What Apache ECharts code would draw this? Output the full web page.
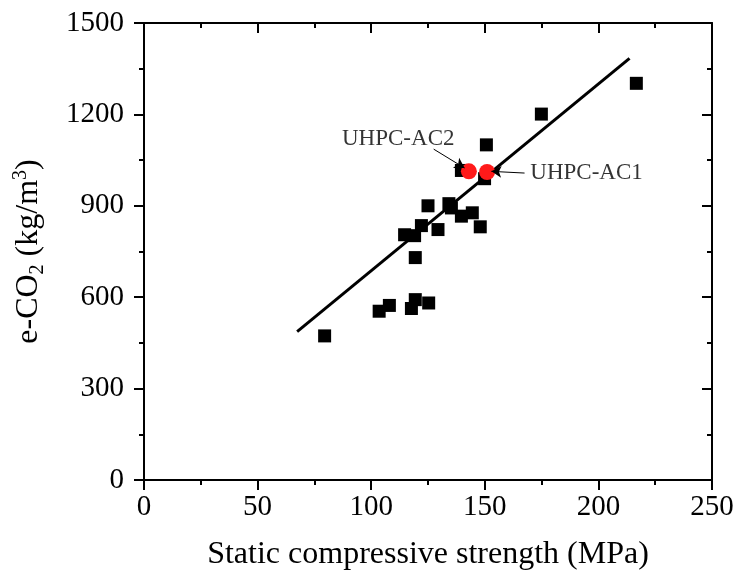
<!DOCTYPE html>
<html>
<head>
<meta charset="utf-8">
<script src="https://cdn.jsdelivr.net/npm/echarts@6/dist/echarts.min.js"></script>
<style>html,body{margin:0;padding:0;background:#fff;}#c{width:740px;height:576px;}</style>
</head>
<body>
<div id="c"></div>
<script>
// Data
var sqX = [79.5, 103.5, 108, 117.7, 119.4, 125.3, 119.4, 114.7, 119.1, 122.1, 129.4, 125, 134.2, 135.3, 139.7, 144.5, 148, 139.7, 149.9, 150.7, 174.9, 216.7];
var sqY = [473, 554, 573, 563, 592, 581, 730, 805, 802, 835, 822, 900, 907, 893, 866, 877, 831, 1016, 989, 1100, 1201, 1302];
var uhpcX = [143, 151];
var uhpcY = [1013, 1011];
var uhpcNames = ['UHPC-AC2', 'UHPC-AC1'];
var fitX = [67.4, 213.7];
var fitY = [487, 1384];
var labelX = [111.9, 194.8];
var labelY = [1119, 1008];
var arrowFromX = [127.5, 167.5];
var arrowFromY = [1086, 1007.5];
var arrowToX = [141.1, 152.9];
var arrowToY = [1024, 1013];
var xTicks = [0, 50, 100, 150, 200, 250];
var yTicks = [0, 300, 600, 900, 1200, 1500];

var FONT = 'Liberation Serif';
function zip(a, b) { return a.map(function (v, i) { return [v, b[i]]; }); }
function plain(v) { return String(v); }

var chart = echarts.init(document.getElementById('c'), null, { renderer: 'canvas' });
var axisLine = { show: true, onZero: false, lineStyle: { color: '#000', width: 2 } };
var option = {
  animation: false,
  backgroundColor: '#fff',
  grid: { left: 144, right: 28, top: 23, bottom: 95, containLabel: false },
  xAxis: [
    {
      type: 'value', position: 'bottom', min: xTicks[0], max: xTicks[xTicks.length - 1], interval: 50,
      axisLine: axisLine,
      axisTick: { show: true, inside: false, length: 10, lineStyle: { color: '#000', width: 2 } },
      minorTick: { show: true, splitNumber: 2, length: 5, lineStyle: { color: '#000', width: 2 } },
      splitLine: { show: false },
      axisLabel: { color: '#000', fontFamily: FONT, fontSize: 29, margin: 13, formatter: plain },
      name: 'Static compressive strength (MPa)', nameLocation: 'middle', nameGap: 59,
      nameTextStyle: { color: '#000', fontFamily: FONT, fontSize: 32 }
    },
    {
      type: 'value', position: 'top', min: 0, max: 250, interval: 50,
      axisLine: axisLine,
      axisTick: { show: true, inside: true, length: 10, lineStyle: { color: '#000', width: 2 } },
      minorTick: { show: true, splitNumber: 2, length: 5, lineStyle: { color: '#000', width: 2 } },
      splitLine: { show: false }, axisLabel: { show: false }
    }
  ],
  yAxis: [
    {
      type: 'value', position: 'left', min: yTicks[0], max: yTicks[yTicks.length - 1], interval: 300,
      axisLine: axisLine,
      axisTick: { show: true, inside: false, length: 10, lineStyle: { color: '#000', width: 2 } },
      minorTick: { show: true, splitNumber: 2, length: 5, lineStyle: { color: '#000', width: 2 } },
      splitLine: { show: false },
      axisLabel: { color: '#000', fontFamily: FONT, fontSize: 29, margin: 20, formatter: plain },
      name: '{a|e-CO}{s|2}{a| (kg/m}{p|3}{a|)}', nameLocation: 'middle', nameGap: 96,
      nameTextStyle: {
        color: '#000', fontFamily: FONT, fontSize: 32,
        rich: {
          a: { fontFamily: FONT, fontSize: 32, color: '#000', verticalAlign: 'middle' },
          s: { fontFamily: FONT, fontSize: 20, color: '#000', verticalAlign: 'middle', padding: [18, 0, 0, 0] },
          p: { fontFamily: FONT, fontSize: 20, color: '#000', verticalAlign: 'middle', padding: [0, 0, 16, 0] }
        }
      }
    },
    {
      type: 'value', position: 'right', min: 0, max: 1500, interval: 300,
      axisLine: axisLine,
      axisTick: { show: true, inside: true, length: 10, lineStyle: { color: '#000', width: 2 } },
      minorTick: { show: true, splitNumber: 2, length: 5, lineStyle: { color: '#000', width: 2 } },
      splitLine: { show: false }, axisLabel: { show: false }
    }
  ],
  series: [
    {
      type: 'line', data: zip(fitX, fitY), symbol: 'none',
      lineStyle: { color: '#000', width: 3 }, z: 2
    },
    {
      type: 'scatter', data: zip(sqX, sqY), symbol: 'rect', symbolSize: 13,
      itemStyle: { color: '#000', opacity: 1 }, z: 3
    },
    {
      type: 'scatter', data: zip(uhpcX, uhpcY), symbol: 'circle', symbolSize: 16,
      itemStyle: { color: '#ff1a1a', opacity: 1 }, z: 4
    },
    {
      type: 'scatter', symbolSize: 0, z: 5,
      data: labelX.map(function (v, i) { return [v, labelY[i], uhpcNames[i]]; }),
      label: {
        show: true, position: 'inside', color: '#000', fontFamily: FONT, fontSize: 23,
        formatter: function (p) { return p.data[2]; }
      },
      markLine: {
        silent: true, symbol: ['none', 'arrow'], symbolSize: [9, 10],
        lineStyle: { color: '#000', width: 1, type: 'solid' },
        label: { show: false },
        data: arrowFromX.map(function (v, i) {
          return [{ coord: [v, arrowFromY[i]] }, { coord: [arrowToX[i], arrowToY[i]] }];
        })
      }
    }
  ]
};
chart.setOption(option);
</script>
</body>
</html>
